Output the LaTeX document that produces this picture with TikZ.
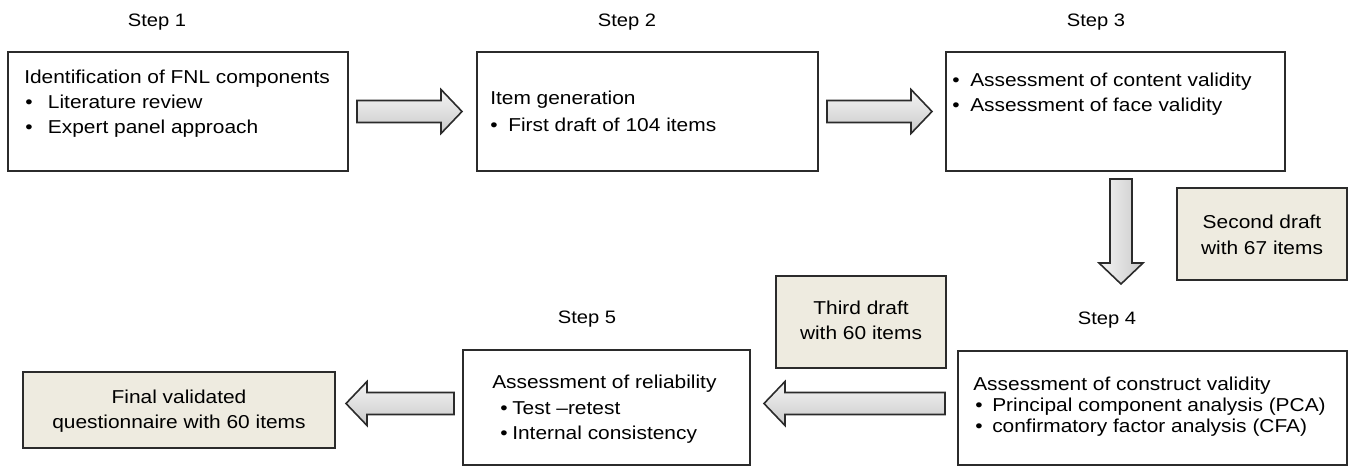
\documentclass[tikz,border=0pt]{standalone}
\usepackage{fontspec}
\setmainfont{Liberation Sans}[FakeStretch=1.12]
\usetikzlibrary{calc,fit}
\definecolor{draftfill}{HTML}{EEEBE0}
\definecolor{edge}{HTML}{2B2B2B}
\tikzset{
  box/.style={draw=edge, line width=1.5pt, fill=white, inner sep=0pt},
  draftbox/.style={box, fill=draftfill},
  txt/.style={inner sep=0pt, align=left, anchor=base west, font=\fontsize{14}{18.75}\selectfont},
  ctxt/.style={inner sep=0pt, align=center, anchor=base, font=\fontsize{14}{18.75}\selectfont},
  steplabel/.style={inner sep=0pt, anchor=base, font=\fontsize{13.5}{16}\selectfont},
  blockarrow/.style={draw=edge, line width=1.2pt, line join=miter},
}
\newcommand{\blockarrow}[3]{%
  \coordinate (ba-h) at ($(#2)!15.75pt!(#1)$);
  \path[blockarrow,#3] ($(#1)!8.25pt!90:(#2)$) -- ($(ba-h)!8.25pt!90:(#2)$) -- ($(ba-h)!16.5pt!90:(#2)$) -- (#2) -- ($(ba-h)!16.5pt!-90:(#2)$) -- ($(ba-h)!8.25pt!-90:(#2)$) -- ($(#1)!8.25pt!-90:(#2)$) -- cycle;}
\newcommand{\bul}[2]{\hspace*{#1}\makebox[#2][l]{•}}
\begin{document}
\begin{tikzpicture}[x=0.75pt,y=-0.75pt]
\useasboundingbox (0,0) rectangle (1349,468);
% boxes
\node[box, fit={(8,52) (348,171)}] (b1) {};
\node[box, fit={(477,52) (818,171)}] (b2) {};
\node[box, fit={(946,52) (1285,171)}] (b3) {};
\node[box, fit={(958,351) (1347,465)}] (b4) {};
\node[box, fit={(463,350) (750,465)}] (b5) {};
\node[draftbox, fit={(23,372) (335,448)}] (fin) {};
\node[draftbox, fit={(1177,188) (1347,280)}] (d2) {};
\node[draftbox, fit={(776,276) (946,368)}] (d3) {};
% step labels
\node[steplabel] (s1) at (157,26.5) {Step 1};
\node[steplabel] (s2) at (627,26.5) {Step 2};
\node[steplabel] (s3) at (1096,26.5) {Step 3};
\node[steplabel] (s4) at (1107,324.5) {Step 4};
\node[steplabel] (s5) at (587,323.5) {Step 5};
% texts (anchor = baseline of the last line)
\node[txt] (t1) at (24,133.5) {Identification of FNL components\\
\bul{0.75pt}{17pt}Literature review\\
\bul{0.75pt}{17pt}Expert panel approach};
\node[txt, font=\fontsize{14}{20.25}\selectfont] (t2) at (490,131.5) {Item generation\\
\bul{0pt}{13.5pt}First draft of 104 items};
\node[txt] (t3) at (952,111.5) {\bul{0pt}{13.5pt}Assessment of content validity\\
\bul{0pt}{13.5pt}Assessment of face validity};
\node[txt, font=\fontsize{14}{15.75}\selectfont] (t4) at (973,432.5) {Assessment of construct validity\\
\bul{1.5pt}{12.75pt}Principal component analysis (PCA)\\
\bul{1.5pt}{12.75pt}confirmatory factor analysis (CFA)};
\node[txt, font=\fontsize{14}{19.1}\selectfont] (t5) at (492,439.5) {Assessment of reliability\\
\bul{6pt}{9pt}Test –retest\\
\bul{6pt}{9pt}Internal consistency};
\node[ctxt] (tf) at (179,428.5) {Final validated\\questionnaire with 60 items};
\node[ctxt, font=\fontsize{14}{19.5}\selectfont] (td2) at (1262,254.5) {Second draft\\with 67 items};
\node[ctxt] (td3) at (861,339.5) {Third draft\\with 60 items};
% arrow end points
\coordinate (a1s) at ($(b1.east)+(8,0)$);
\coordinate (a1e) at ($(b2.west |- a1s)+(-14,0)$);
\coordinate (a2s) at ($(b2.east)+(8,0)$);
\coordinate (a2e) at ($(b3.west |- a2s)+(-13,0)$);
\coordinate (ds) at ($(b3.south)+(5.5,7)$);
\coordinate (de) at ($(ds |- b4.north)+(0,-66)$);
\coordinate (a3s) at ($(b4.west)+(-12,-4.5)$);
\coordinate (a3e) at ($(b5.east |- a3s)+(13,0)$);
\coordinate (a4s) at ($(b5.west |- a3s)+(-8,0)$);
\coordinate (a4e) at ($(fin.east |- a3s)+(10,0)$);
% block arrows
\blockarrow{a1s}{a1e}{top color=gray!8, bottom color=gray!42}
\blockarrow{a2s}{a2e}{top color=gray!8, bottom color=gray!42}
\blockarrow{ds}{de}{left color=gray!8, right color=gray!42}
\blockarrow{a3s}{a3e}{top color=gray!8, bottom color=gray!42}
\blockarrow{a4s}{a4e}{top color=gray!8, bottom color=gray!42}
\end{tikzpicture}
\end{document}
